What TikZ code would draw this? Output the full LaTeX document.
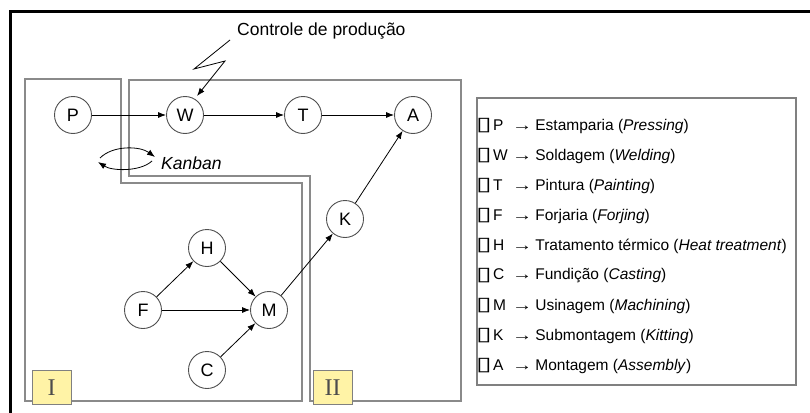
\documentclass[tikz,border=0pt]{standalone}
\usepackage{fontspec}
\setmainfont{Liberation Sans}
\newfontfamily\dvfont{DejaVu Sans}
\newfontfamily\romfont{Liberation Serif}
\usetikzlibrary{arrows.meta}
\definecolor{regline}{HTML}{8A8A8A}
\definecolor{tagfill}{HTML}{FFF3A6}
\definecolor{circline}{HTML}{505050}
\begin{document}
\begin{tikzpicture}[x=1pt,y=-1pt,
  proc/.style={circle,draw=circline,line width=0.9pt,minimum size=37pt,inner sep=0pt,font=\fontsize{18}{18}\selectfont},
  flow/.style={-{Latex[length=8pt,width=6pt]},line width=0.8pt},
  region/.style={draw=regline,line width=1.3pt},
  tagbox/.style={draw=gray,fill=tagfill,line width=0.9pt,minimum width=39pt,minimum height=34pt,inner sep=0pt,font=\romfont\fontsize{24}{24}\selectfont,text=black!70},
  legrow/.style={anchor=west,inner sep=0pt,font=\fontsize{15.5}{15.5}\selectfont},
  legsq/.style={inner sep=0pt,font=\dvfont\fontsize{19}{19}\selectfont},
  lbl/.style={anchor=west,inner sep=0pt,font=\fontsize{17.5}{17.5}\selectfont}]
\useasboundingbox (0,0) rectangle (810,412);
\fill[white] (0,0) rectangle (810,412);
\draw[line width=3pt] (10.5,420) -- (10.5,11.5) -- (820,11.5);
% regions
\draw[region] (25,79) -- (121,79) -- (121,183) -- (302,183) -- (302,401) -- (25,401) -- cycle;
\draw[region] (129,80) -- (461,80) -- (461,401) -- (310,401) -- (310,176) -- (129,176) -- cycle;
\node[tagbox] (tagI) at (51.5,387.5) {I};
\node[tagbox] (tagII) at (332.5,387.5) {II};
% process nodes
\node[proc] (P) at (73,115) {P};
\node[proc] (W) at (185,115) {W};
\node[proc] (T) at (303,115) {T};
\node[proc] (A) at (413,115) {A};
\node[proc] (K) at (345,219) {K};
\node[proc] (H) at (207,248) {H};
\node[proc] (F) at (143,310) {F};
\node[proc] (M) at (269,310) {M};
\node[proc] (C) at (207,370) {C};
% flows
\draw[flow] (P) -- (W);
\draw[flow] (W) -- (T);
\draw[flow] (T) -- (A);
\draw[flow] (F) -- (H);
\draw[flow] (H) -- (M);
\draw[flow] (F) -- (M);
\draw[flow] (C) -- (M);
\draw[flow] (M) -- (K);
\draw[flow] (K) -- (A);
% production control
\node[lbl] (ctrl) at (237,31) {Controle de produção};
\coordinate (z0) at (230,40);
\coordinate (z1) at (194,69);
\coordinate (z2) at (225,61);
\coordinate (z3) at (197,96);
\draw[flow] (z0) -- (z1) -- (z2) -- (z3);
% kanban
\node[lbl] (kanban) at (161,163) {\itshape Kanban};
\coordinate (ka1) at (100,158);
\coordinate (ka2) at (155,157);
\coordinate (kb1) at (152,161);
\coordinate (kb2) at (98,162);
\draw[flow] (ka1) .. controls (113,145) and (140,146) .. (ka2);
\draw[flow] (kb1) .. controls (140,172) and (112,171) .. (kb2);
% legend
\draw[draw=gray,line width=1.2pt] (477,98) rectangle (796,385);
\foreach \lt/\ptx/\enx [count=\i] in {P/Estamparia/Pressing, W/Soldagem/Welding, T/Pintura/Painting, F/Forjaria/Forjing, H/Tratamento térmico/Heat treatment, C/Fundição/Casting, M/Usinagem/Machining, K/Submontagem/Kitting, A/Montagem/Assembly}
{
  \node[legsq] (sq\i) at (484,{96+30*\i}) {\scalebox{1.5}[1]{▯}};
  \node[legrow] (leg\i) at (493,{96+30*\i}) {\makebox[19pt][l]{\lt}\scalebox{1.3}[1]{→}\hspace{3pt}\ptx\ (\textit{\enx})};
}
\end{tikzpicture}
\end{document}
